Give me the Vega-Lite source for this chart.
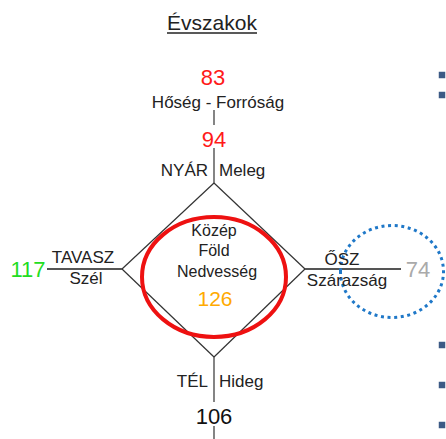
{
  "$schema": "https://vega.github.io/schema/vega-lite/v6.json",
  "width": 446,
  "height": 439,
  "autosize": {"type": "none"},
  "padding": 0,
  "background": "white",
  "config": {"view": {"stroke": null}, "text": {"font": "Liberation Sans"}},
  "datasets": {
    "segs": [
      {"x": 214, "y": 110, "x2": 214, "y2": 125, "k": "v"},
      {"x": 214, "y": 148, "x2": 214, "y2": 183, "k": "v"},
      {"x": 214, "y": 183, "x2": 122, "y2": 269, "k": "d"},
      {"x": 122, "y": 269, "x2": 214, "y2": 357, "k": "d"},
      {"x": 214, "y": 357, "x2": 305, "y2": 269, "k": "d"},
      {"x": 305, "y": 269, "x2": 214, "y2": 183, "k": "d"},
      {"x": 47, "y": 269, "x2": 122, "y2": 269, "k": "h"},
      {"x": 305, "y": 269, "x2": 401, "y2": 269, "k": "h"},
      {"x": 214, "y": 357, "x2": 214, "y2": 402, "k": "v"},
      {"x": 214, "y": 426, "x2": 214, "y2": 439, "k": "v"},
      {"x": 167, "y": 33, "x2": 257, "y2": 33, "k": "u"}
    ],
    "texts": [
      {"t": "Évszakok", "x": 212, "y": 30, "g": "title"},
      {"t": "83", "x": 213, "y": 85, "g": "red"},
      {"t": "94", "x": 214, "y": 147, "g": "red"},
      {"t": "117", "x": 28, "y": 277, "g": "green"},
      {"t": "74", "x": 418, "y": 277, "g": "gray"},
      {"t": "106", "x": 214, "y": 424, "g": "black"},
      {"t": "126", "x": 215, "y": 306, "g": "orange"},
      {"t": "Hőség - Forróság", "x": 218, "y": 108, "g": "lab"},
      {"t": "TAVASZ", "x": 83, "y": 263, "g": "lab"},
      {"t": "Szél", "x": 86, "y": 284, "g": "lab"},
      {"t": "ŐSZ", "x": 342, "y": 265, "g": "lab"},
      {"t": "Szárazság", "x": 347, "y": 286, "g": "lab"},
      {"t": "NYÁR", "x": 208, "y": 176, "g": "labR"},
      {"t": "TÉL", "x": 208, "y": 387, "g": "labR"},
      {"t": "Meleg", "x": 219, "y": 176, "g": "labL"},
      {"t": "Hideg", "x": 219, "y": 387, "g": "labL"},
      {"t": "Közép", "x": 214, "y": 236, "g": "mid"},
      {"t": "Föld", "x": 214, "y": 256, "g": "mid"},
      {"t": "Nedvesség", "x": 217, "y": 277, "g": "mid"}
    ],
    "rings": [
      {"x": 214, "y": 277, "g": "red"},
      {"x": 392, "y": 271.5, "g": "blue"}
    ],
    "bullets": [
      {"x": 442, "y": 75},
      {"x": 442, "y": 95},
      {"x": 442, "y": 345},
      {"x": 442, "y": 385},
      {"x": 442, "y": 425}
    ]
  },
  "encoding": {
    "x": {"field": "x", "type": "quantitative", "scale": {"domain": [0, 446], "nice": false, "zero": false}, "axis": null},
    "y": {"field": "y", "type": "quantitative", "scale": {"domain": [0, 439], "nice": false, "zero": false, "reverse": true}, "axis": null}
  },
  "layer": [
    {
      "data": {"name": "segs"},
      "transform": [{"filter": "datum.k === 'd' || datum.k === 'v'"}],
      "mark": {"type": "rule", "color": "#333333", "strokeWidth": 1.2},
      "encoding": {"x2": {"field": "x2"}, "y2": {"field": "y2"}}
    },
    {
      "data": {"name": "segs"},
      "transform": [{"filter": "datum.k === 'h'"}],
      "mark": {"type": "rule", "color": "#555555", "strokeWidth": 2},
      "encoding": {"x2": {"field": "x2"}, "y2": {"field": "y2"}}
    },
    {
      "data": {"name": "segs"},
      "transform": [{"filter": "datum.k === 'u'"}],
      "mark": {"type": "rule", "color": "#222222", "strokeWidth": 1.5},
      "encoding": {"x2": {"field": "x2"}, "y2": {"field": "y2"}}
    },
    {
      "data": {"name": "rings"},
      "transform": [{"filter": "datum.g === 'red'"}],
      "mark": {"type": "point", "filled": false, "stroke": "#ee1111", "strokeWidth": 4, "opacity": 1, "size": 20736,
        "shape": "M -1 0 C -1 -0.46 -0.5523 -0.833 0 -0.833 C 0.5523 -0.833 1 -0.46 1 0 C 1 0.46 0.5523 0.833 0 0.833 C -0.5523 0.833 -1 0.46 -1 0 Z"}
    },
    {
      "data": {"name": "rings"},
      "transform": [{"filter": "datum.g === 'blue'"}],
      "mark": {"type": "point", "filled": false, "stroke": "#1f78c8", "strokeWidth": 3, "strokeDash": [3, 3.6], "opacity": 1, "size": 10609,
        "shape": "M -1 0 C -1 -0.4932 -0.5523 -0.893 0 -0.893 C 0.5523 -0.893 1 -0.4932 1 0 C 1 0.4932 0.5523 0.893 0 0.893 C -0.5523 0.893 -1 0.4932 -1 0 Z"}
    },
    {
      "data": {"name": "bullets"},
      "mark": {"type": "square", "color": "#3c5a85", "size": 42, "opacity": 1}
    },
    {
      "data": {"name": "texts"},
      "transform": [{"filter": "datum.g === 'title'"}],
      "mark": {"type": "text", "fontSize": 21, "color": "#222222", "align": "center", "baseline": "alphabetic"},
      "encoding": {"text": {"field": "t"}}
    },
    {
      "data": {"name": "texts"},
      "transform": [{"filter": "datum.g === 'red'"}],
      "mark": {"type": "text", "fontSize": 22, "color": "#ff1a1a", "align": "center", "baseline": "alphabetic"},
      "encoding": {"text": {"field": "t"}}
    },
    {
      "data": {"name": "texts"},
      "transform": [{"filter": "datum.g === 'green'"}],
      "mark": {"type": "text", "fontSize": 22, "color": "#22dd22", "align": "center", "baseline": "alphabetic"},
      "encoding": {"text": {"field": "t"}}
    },
    {
      "data": {"name": "texts"},
      "transform": [{"filter": "datum.g === 'gray'"}],
      "mark": {"type": "text", "fontSize": 22, "color": "#aaaaaa", "align": "center", "baseline": "alphabetic"},
      "encoding": {"text": {"field": "t"}}
    },
    {
      "data": {"name": "texts"},
      "transform": [{"filter": "datum.g === 'black'"}],
      "mark": {"type": "text", "fontSize": 22, "color": "#111111", "align": "center", "baseline": "alphabetic"},
      "encoding": {"text": {"field": "t"}}
    },
    {
      "data": {"name": "texts"},
      "transform": [{"filter": "datum.g === 'orange'"}],
      "mark": {"type": "text", "fontSize": 21, "color": "#ffaa00", "align": "center", "baseline": "alphabetic"},
      "encoding": {"text": {"field": "t"}}
    },
    {
      "data": {"name": "texts"},
      "transform": [{"filter": "datum.g === 'lab'"}],
      "mark": {"type": "text", "fontSize": 17, "color": "#222222", "align": "center", "baseline": "alphabetic"},
      "encoding": {"text": {"field": "t"}}
    },
    {
      "data": {"name": "texts"},
      "transform": [{"filter": "datum.g === 'labR'"}],
      "mark": {"type": "text", "fontSize": 17, "color": "#222222", "align": "right", "baseline": "alphabetic"},
      "encoding": {"text": {"field": "t"}}
    },
    {
      "data": {"name": "texts"},
      "transform": [{"filter": "datum.g === 'labL'"}],
      "mark": {"type": "text", "fontSize": 17, "color": "#222222", "align": "left", "baseline": "alphabetic"},
      "encoding": {"text": {"field": "t"}}
    },
    {
      "data": {"name": "texts"},
      "transform": [{"filter": "datum.g === 'mid'"}],
      "mark": {"type": "text", "fontSize": 16, "color": "#222222", "align": "center", "baseline": "alphabetic"},
      "encoding": {"text": {"field": "t"}}
    }
  ]
}
